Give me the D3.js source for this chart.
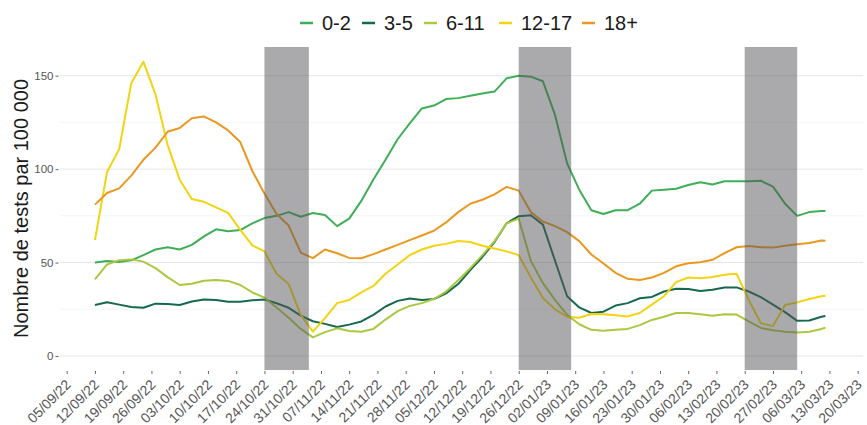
<!DOCTYPE html>
<html><head><meta charset="utf-8">
<script src="https://cdn.jsdelivr.net/npm/d3@7"></script>
<style>body{margin:0;background:#fff}svg{display:block;font-family:"Liberation Sans",Arial,sans-serif}</style>
</head><body><svg id="c" width="867" height="425"></svg>
<script>
const dates = ["2022-09-12","2022-09-15","2022-09-18","2022-09-21","2022-09-24","2022-09-27","2022-09-30","2022-10-03","2022-10-06","2022-10-09","2022-10-12","2022-10-15","2022-10-18","2022-10-21","2022-10-24","2022-10-27","2022-10-30","2022-11-02","2022-11-05","2022-11-08","2022-11-11","2022-11-14","2022-11-17","2022-11-20","2022-11-23","2022-11-26","2022-11-29","2022-12-02","2022-12-05","2022-12-08","2022-12-11","2022-12-14","2022-12-17","2022-12-20","2022-12-23","2022-12-26","2022-12-29","2023-01-01","2023-01-04","2023-01-07","2023-01-10","2023-01-13","2023-01-16","2023-01-19","2023-01-22","2023-01-25","2023-01-28","2023-01-31","2023-02-03","2023-02-06","2023-02-09","2023-02-12","2023-02-15","2023-02-18","2023-02-21","2023-02-24","2023-02-27","2023-03-02","2023-03-05","2023-03-08","2023-03-11","2023-03-12"];
const age0_2 = [50,50.8,50.3,51.2,54,57,58.2,57,59.5,64,67.8,66.7,67.4,71,73.8,75,77,74.5,76.5,75.5,69.5,73.5,83,94.5,105,116,124.5,132.5,134,137.5,138,139.3,140.5,141.5,148.6,150,149.5,147,129,103,89,78,76,78,78,81.5,88.5,89,89.5,91.5,93,91.8,93.5,93.5,93.5,93.8,90.6,81.5,75,77,77.6,77.6];
const age3_5 = [27.3,28.8,27.5,26.2,25.8,28,27.8,27.3,29.2,30.2,30,29,29,29.8,30.2,28.2,25.8,21.6,18.6,17.2,15.5,16.8,18.5,22,26.5,29.5,30.8,30,30.5,33.5,38.5,46,53,61,71,74.8,75.3,70.3,51,32,26,23,23.7,27,28.3,30.9,31.6,34.5,36,35.8,34.8,35.5,36.7,36.7,34.5,31.5,27.5,23.5,18.8,19,21,21.4];
const age6_11 = [41,49,51.3,51.7,50.5,47,42.2,38,38.7,40.3,40.7,40.2,38,34,31.2,26,20.5,14.5,10,12.8,14.8,13.4,13,14.5,19.5,24,26.8,28.3,30.5,34.5,40.5,47,54,61.5,71,73.5,51,39,30,22,17,14,13.5,14,14.5,16.5,19.3,21,23,23,22.3,21.5,22.3,22.2,18.5,15,13.8,13,12.6,13,14.5,15.1];
const age12_17 = [62,98.5,110.7,146,157.5,140,113,94.3,84,82.5,79.5,76.6,67.5,59.2,56,44,38.5,22,13,20.3,28.3,30,34,37.5,44,49,54,57,59,60,61.5,61,59,57.5,56,54,42,31,25,21,20.5,22.5,22.4,21.8,21.2,23,27.5,32,39.5,42,41.6,42.3,43.5,44,30,17.5,16,27.3,28.7,30.5,32,32.3];
const age18p = [81,87.2,89.7,96.5,105,111.5,120,122,127.2,128.2,125,120.7,114.5,99,87,76,69.8,55.3,52.4,57,55,52.5,52.3,54.5,57,59.5,62,64.5,67,71.5,77,81.5,83.6,86.5,90.5,88.5,77,72,69.5,66.3,61.5,54.3,49.5,44.5,41.3,40.7,42,44.5,48,49.6,50.2,51.5,55,58.2,58.9,58.2,58,59,59.8,60.5,61.8,61.7];
const seriesNames = ["0-2","3-5","6-11","12-17","18+"];
const seriesColors = ["#3fae57","#16694a","#a9c940","#f2d412","#ea9820"];
const holidays = [["2022-10-24","2022-11-04"],["2022-12-26","2023-01-08"],["2023-02-20","2023-03-05"]];
const xTicks = ["2022-09-05","2022-09-12","2022-09-19","2022-09-26","2022-10-03","2022-10-10","2022-10-17","2022-10-24","2022-10-31","2022-11-07","2022-11-14","2022-11-21","2022-11-28","2022-12-05","2022-12-12","2022-12-19","2022-12-26","2023-01-02","2023-01-09","2023-01-16","2023-01-23","2023-01-30","2023-02-06","2023-02-13","2023-02-20","2023-02-27","2023-03-06","2023-03-13","2023-03-20"];
const yTicks = [0,50,100,150];
const yMinor = [25,75,125];

const parse = d3.timeParse("%Y-%m-%d");
const svg = d3.select("#c");
const panel = {left:60, right:863, top:47, bottom:370};
const x = d3.scaleTime().domain([parse("2022-09-05"), parse("2023-03-20")]).range([66.7, 857.7]);
const y = d3.scaleLinear().domain([0,150]).range([356, 75.7]);

// grid
svg.append("g").selectAll("line").data(yMinor).join("line")
  .attr("x1",panel.left).attr("x2",panel.right).attr("y1",d=>y(d)).attr("y2",d=>y(d))
  .attr("stroke","#f3f3f3").attr("stroke-width",0.8);
svg.append("g").selectAll("line").data(yTicks).join("line")
  .attr("x1",panel.left).attr("x2",panel.right).attr("y1",d=>y(d)).attr("y2",d=>y(d))
  .attr("stroke","#e6e6e6").attr("stroke-width",1);

// lines
const all = [age0_2, age3_5, age6_11, age12_17, age18p];
const line = d3.line().x((d,i)=>x(parse(dates[i]))).y(d=>y(d));
all.forEach((s,k)=>{
  svg.append("path").datum(s).attr("d",line).attr("fill","none")
    .attr("stroke",seriesColors[k]).attr("stroke-width",2).attr("stroke-linejoin","round");
});

// holiday rects
svg.append("g").selectAll("rect").data(holidays).join("rect")
  .attr("x",d=>x(parse(d[0]))).attr("width",d=>x(parse(d[1]))-x(parse(d[0])))
  .attr("y",panel.top).attr("height",panel.bottom-panel.top)
  .attr("fill","#56565a").attr("fill-opacity",0.5);

// y axis
const ya = svg.append("g").attr("transform",`translate(58.5,0)`)
  .call(d3.axisLeft(y).tickValues(yTicks).tickSize(3).tickPadding(2));
ya.select(".domain").remove();
ya.selectAll("line").attr("stroke","#666");
ya.selectAll("text").attr("font-size",11.5).attr("fill","#555").attr("font-family","Liberation Sans, Arial, sans-serif");

// x axis
const xa = svg.append("g").attr("transform",`translate(0,${panel.bottom+1})`)
  .call(d3.axisBottom(x).tickValues(xTicks.map(parse)).tickFormat(d3.timeFormat("%d/%m/%y")).tickSize(3).tickPadding(2));
xa.select(".domain").remove();
xa.selectAll("line").attr("stroke","#666");
xa.selectAll("text").attr("font-size",14).attr("fill","#555").attr("font-family","Liberation Sans, Arial, sans-serif")
  .attr("text-anchor","end").attr("x",0).attr("y",0).attr("dy","0.35em")
  .attr("transform","translate(1,11) rotate(-45)");

// y label
svg.append("text").attr("transform",`translate(28,${(panel.top+panel.bottom)/2}) rotate(-90)`)
  .attr("text-anchor","middle").attr("font-size",20).attr("fill","#1a1a1a")
  .text("Nombre de tests par 100 000");

// legend
const legX = [300,362,424,499,582];
const lg = svg.append("g");
seriesNames.forEach((n,k)=>{
  lg.append("line").attr("x1",legX[k]).attr("x2",legX[k]+13).attr("y1",23).attr("y2",23)
    .attr("stroke",seriesColors[k]).attr("stroke-width",2.5);
  lg.append("text").attr("x",legX[k]+22).attr("y",30).attr("font-size",20).attr("fill","#1a1a1a").text(n);
});
</script></body></html>
